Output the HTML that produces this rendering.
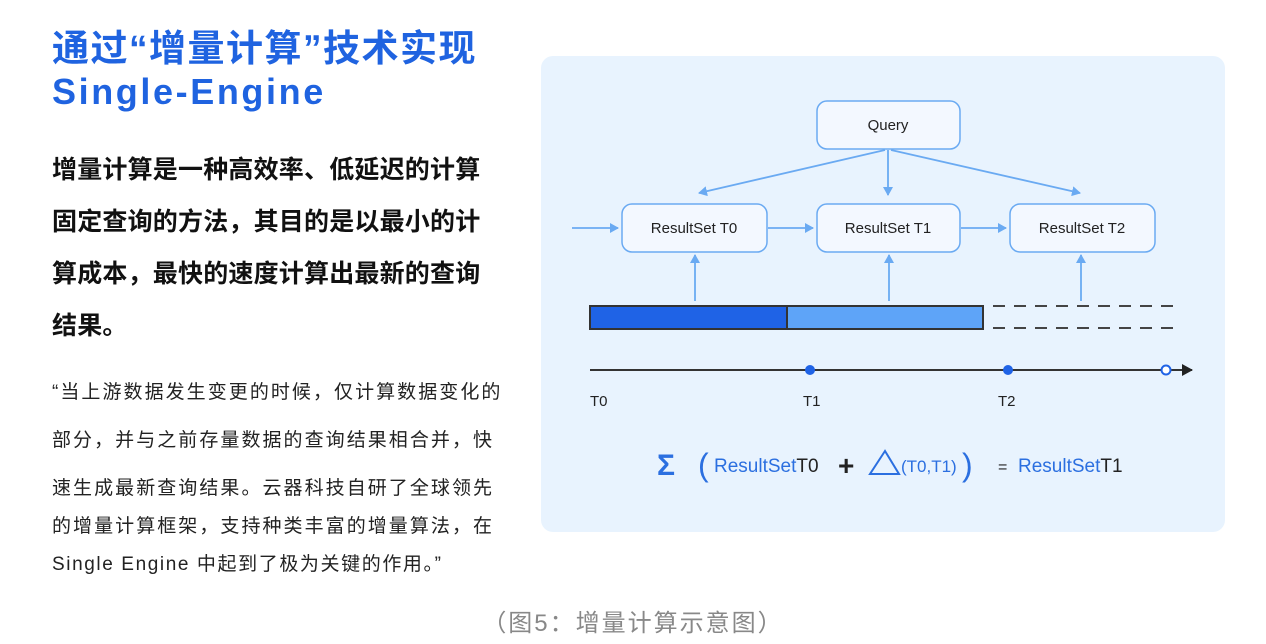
<!DOCTYPE html>
<html><head><meta charset="utf-8"><style>
body{margin:0;width:1266px;height:644px;background:#fff;position:relative;overflow:hidden;font-family:"Liberation Sans","Noto Sans CJK SC",sans-serif}
.t{position:absolute;white-space:nowrap;left:52px}
.h{color:#1f63e0;font-weight:bold}
.b{font-size:25px;font-weight:bold;letter-spacing:0.2px;color:#111}
.q{font-size:19px;letter-spacing:2.05px;color:#222}
</style></head><body>
<div class="t h" style="top:18px;font-size:37px;letter-spacing:1.5px">通过“增量计算”技术实现</div>
<div class="t h" style="top:71px;font-size:36px;letter-spacing:2.6px">Single-Engine</div>
<div class="t b" style="top:150px">增量计算是一种高效率、低延迟的计算</div>
<div class="t b" style="top:202px">固定查询的方法，其目的是以最小的计</div>
<div class="t b" style="top:254px">算成本，最快的速度计算出最新的查询</div>
<div class="t b" style="top:306px">结果。</div>
<div class="t q" style="top:377px">“当上游数据发生变更的时候，仅计算数据变化的</div>
<div class="t q" style="top:425px">部分，并与之前存量数据的查询结果相合并，快</div>
<div class="t q" style="top:473px">速生成最新查询结果。云器科技自研了全球领先</div>
<div class="t q" style="top:511px">的增量计算框架，支持种类丰富的增量算法，在</div>
<div class="t q" style="top:549px;letter-spacing:1.6px">Single Engine 中起到了极为关键的作用。”</div>
<div style="position:absolute;top:603px;left:0;width:1266px;text-align:center;font-size:24px;color:#888;letter-spacing:2px">（图5：增量计算示意图）</div>
<svg style="position:absolute;left:0;top:0" width="1266" height="644">
<defs><marker id="a" markerWidth="10" markerHeight="10" refX="8" refY="5" orient="auto" markerUnits="userSpaceOnUse"><path d="M0,0 L9,5 L0,10 Z" fill="#6aaaf2"/></marker>
<marker id="k" markerWidth="12" markerHeight="12" refX="10" refY="6" orient="auto" markerUnits="userSpaceOnUse"><path d="M0,0 L11,6 L0,12 Z" fill="#222"/></marker></defs>
<rect x="541" y="56" width="684" height="476" rx="12" fill="#e8f3fe"/>
<g fill="#f3f8ff" stroke="#6aaaf2" stroke-width="1.5">
<rect x="817" y="101" width="143" height="48" rx="10"/>
<rect x="622" y="204" width="145" height="48" rx="10"/>
<rect x="817" y="204" width="143" height="48" rx="10"/>
<rect x="1010" y="204" width="145" height="48" rx="10"/>
</g>
<g font-size="15" fill="#222" text-anchor="middle">
<text x="888" y="130">Query</text>
<text x="694" y="233">ResultSet T0</text>
<text x="888" y="233">ResultSet T1</text>
<text x="1082" y="233">ResultSet T2</text>
</g>
<g stroke="#6aaaf2" stroke-width="1.8" marker-end="url(#a)">
<line x1="885" y1="150" x2="699" y2="193"/>
<line x1="888" y1="150" x2="888" y2="195"/>
<line x1="891" y1="150" x2="1080" y2="193"/>
<line x1="572" y1="228" x2="618" y2="228"/>
<line x1="768" y1="228" x2="813" y2="228"/>
<line x1="961" y1="228" x2="1006" y2="228"/>
<line x1="695" y1="301" x2="695" y2="255"/>
<line x1="889" y1="301" x2="889" y2="255"/>
<line x1="1081" y1="301" x2="1081" y2="255"/>
</g>
<rect x="590" y="306" width="197" height="23" fill="#1f63e6" stroke="#333" stroke-width="2"/>
<rect x="787" y="306" width="196" height="23" fill="#5ea4f8" stroke="#333" stroke-width="2"/>
<g stroke="#444" stroke-width="2" stroke-dasharray="12,9"><line x1="993" y1="306" x2="1182" y2="306"/><line x1="993" y1="328" x2="1182" y2="328"/></g>
<line x1="590" y1="370" x2="1192" y2="370" stroke="#333" stroke-width="2" marker-end="url(#k)"/>
<circle cx="810" cy="370" r="5" fill="#1f63e6"/>
<circle cx="1008" cy="370" r="5" fill="#1f63e6"/>
<circle cx="1166" cy="370" r="4.5" fill="#fff" stroke="#1f63e6" stroke-width="2"/>
<g font-size="15" fill="#222"><text x="590" y="406">T0</text><text x="803" y="406">T1</text><text x="998" y="406">T2</text></g>
<text x="657" y="475" font-size="30" font-weight="bold" fill="#2b6fe0">Σ</text>
<text x="698" y="476" font-size="32" fill="#2b6fe0">(</text>
<text x="714" y="472" font-size="19" fill="#2b6fe0">ResultSet<tspan fill="#222">T0</tspan></text>
<text x="838" y="475" font-size="28" font-weight="bold" fill="#222">+</text>
<path d="M885,451 L870,474 L899,474 Z" fill="none" stroke="#2b6fe0" stroke-width="2"/>
<text x="901" y="472" font-size="17" fill="#2b6fe0">(T0,T1)</text>
<text x="962" y="476" font-size="32" fill="#2b6fe0">)</text>
<text x="998" y="472" font-size="16" fill="#222">=</text>
<text x="1018" y="472" font-size="19" fill="#2b6fe0">ResultSet<tspan fill="#222">T1</tspan></text>
</svg>
</body></html>
